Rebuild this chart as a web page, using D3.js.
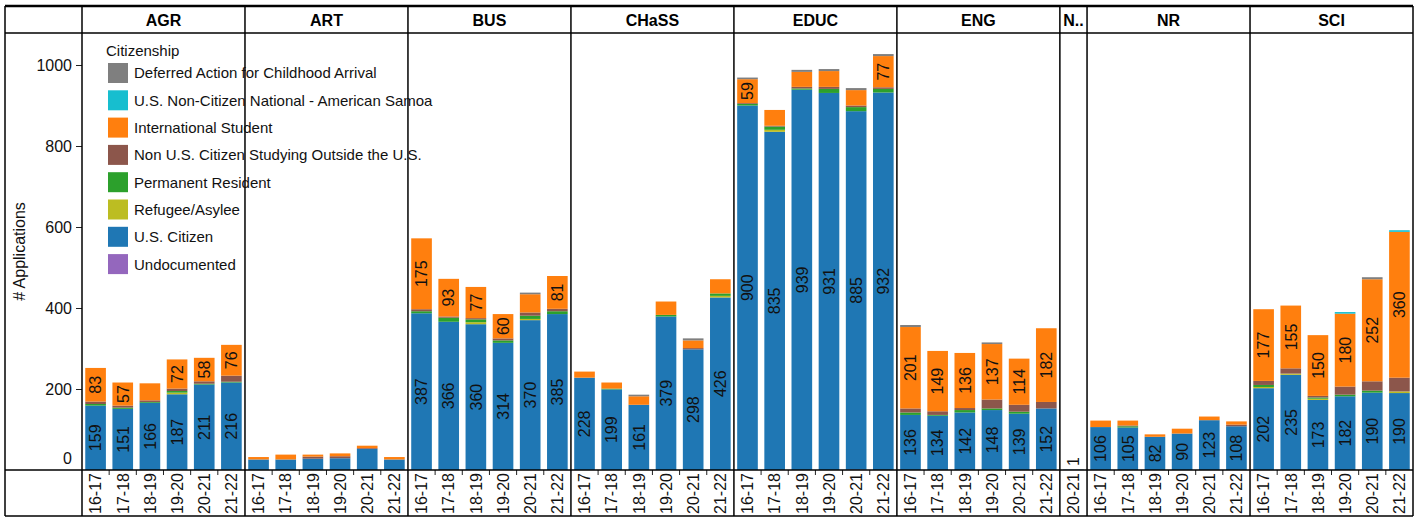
<!DOCTYPE html>
<html>
<head>
<meta charset="utf-8">
<script src="https://cdn.jsdelivr.net/npm/d3@7"></script>
<style>
  body { margin: 0; background: #fff; }
  text { font-family: "Liberation Sans", Arial, sans-serif; fill: #111; }
</style>
</head>
<body>
<svg id="chart" width="1424" height="518"></svg>
<script>
// colleges (panels) and academic years
const colleges = ["AGR", "ART", "BUS", "CHaSS", "EDUC", "ENG", "N..", "NR", "SCI"];
const years = ["16-17", "17-18", "18-19", "19-20", "20-21", "21-22"];
const shortYears = ["20-21"]; // the narrow "N.." panel only has one year

// legend order (top to bottom); bars stack in the reverse order
const citizenship = [
  "Deferred Action for Childhood Arrival",
  "U.S. Non-Citizen National - American Samoa",
  "International Student",
  "Non U.S. Citizen Studying Outside the U.S.",
  "Permanent Resident",
  "Refugee/Asylee",
  "U.S. Citizen",
  "Undocumented"
];
const colors = ["#7f7f7f", "#17becf", "#ff7f0e", "#8c564b", "#2ca02c", "#bcbd22", "#1f77b4", "#9467bd"];

// values per row: AGR x6, ART x6, BUS x6, CHaSS x6, EDUC x6, ENG x6, N.. x1, NR x6, SCI x6
const daca = [
  0, 0, 0, 0, 0, 0,   0, 0, 0, 0, 0, 0,   0, 0, 0, 0, 4, 0,   0, 0, 4, 0, 5, 0,
  4, 0, 5, 5, 5, 5,   5, 0, 0, 4, 0, 0,   0,   0, 0, 0, 0, 0, 0,   0, 0, 0, 0, 5, 0
];
const usNational = [
  0, 0, 0, 0, 0, 0,   0, 0, 0, 0, 0, 0,   0, 0, 0, 0, 0, 0,   0, 0, 0, 0, 0, 0,
  0, 0, 0, 0, 0, 0,   0, 0, 0, 0, 0, 0,   0,   0, 0, 0, 0, 0, 0,   0, 0, 0, 4, 0, 4
];
const international = [
  83, 57, 42, 72, 58, 76,   6, 12, 5, 7, 6, 6,   175, 93, 77, 60, 45, 81,   15, 15, 21, 33, 19, 35,
  59, 39, 37, 39, 38, 77,   201, 149, 136, 137, 114, 182,   0,   16, 12, 6, 12, 9, 8,   177, 155, 150, 180, 252, 360
];
const nonUS = [
  6, 5, 4, 6, 6, 15,   0, 0, 5, 5, 2, 0,   5, 3, 3, 5, 8, 6,   0, 0, 0, 0, 3, 0,
  2, 2, 4, 5, 4, 4,   10, 9, 5, 22, 17, 16,   0,   0, 2, 0, 0, 0, 4,   10, 13, 4, 20, 23, 34
];
const permanent = [
  4, 3, 2, 4, 2, 2,   0, 0, 0, 0, 0, 0,   5, 10, 7, 6, 8, 7,   0, 2, 0, 4, 0, 6,
  4, 8, 3, 10, 10, 9,   6, 2, 6, 4, 5, 0,   0,   0, 3, 0, 0, 0, 0,   5, 0, 3, 4, 5, 0
];
const refugee = [
  0, 0, 0, 4, 0, 0,   0, 0, 0, 0, 0, 0,   0, 0, 5, 0, 3, 0,   0, 0, 0, 0, 0, 4,
  0, 5, 0, 0, 0, 0,   0, 0, 0, 0, 0, 0,   0,   0, 0, 0, 0, 0, 0,   3, 3, 3, 0, 0, 4
];
const usCitizen = [
  159, 151, 166, 187, 211, 216,   26, 26, 28, 29, 52, 26,   387, 366, 360, 314, 370, 385,   228, 199, 161, 379, 298, 426,
  900, 835, 939, 931, 885, 932,   136, 134, 142, 148, 139, 152,   1,   106, 105, 82, 90, 123, 108,   202, 235, 173, 182, 190, 190
];
const undocumented = [
  0, 0, 0, 0, 0, 0,   0, 0, 0, 0, 0, 0,   0, 0, 0, 0, 0, 0,   0, 0, 0, 0, 0, 0,
  0, 0, 0, 0, 1, 0,   0, 0, 0, 0, 0, 0,   0,   0, 0, 0, 0, 0, 0,   0, 0, 0, 0, 1, 0
];
const yTicks = [0, 200, 400, 600, 800, 1000];

const seriesValues = [daca, usNational, international, nonUS, permanent, refugee, usCitizen, undocumented];
const labelled = ["U.S. Citizen", "International Student"];

// build table
const rows = [];
colleges.forEach(c => {
  (c === "N.." ? shortYears : years).forEach(y => rows.push({ college: c, year: y, key: c + "|" + y }));
});
rows.forEach((r, i) => {
  citizenship.forEach((s, j) => { r[s] = seriesValues[j][i]; });
  r.total = d3.sum(citizenship, s => r[s]);
});

// layout
const frameL = 5, frameR = 1413, frameT = 6, headB = 33, plotB = 470, frameB = 516;
const plotL = 82;

const svg = d3.select("#chart");

const x = d3.scaleBand()
  .domain(rows.map(r => r.key))
  .range([plotL, frameR])
  .paddingInner(0.24)
  .paddingOuter(0.12);
const step = x.step();

const y = d3.scaleLinear()
  .domain([0, (plotB - headB) / 0.405])
  .range([plotB, headB]);

const color = d3.scaleOrdinal().domain(citizenship).range(colors);

// stacked bars
const stack = d3.stack().keys(citizenship.slice().reverse());
const layers = stack(rows);

const barG = svg.append("g");
barG.selectAll("g")
  .data(layers).enter()
  .append("g")
    .attr("fill", d => color(d.key))
  .selectAll("rect")
  .data(d => d).enter()
  .append("rect")
    .attr("x", d => x(d.data.key))
    .attr("width", x.bandwidth())
    .attr("y", d => y(d[1]))
    .attr("height", d => Math.max(0, y(d[0]) - y(d[1])));

// value labels
const labelG = svg.append("g");
layers.filter(l => labelled.includes(l.key)).forEach(l => {
  l.forEach(d => {
    const v = d[1] - d[0];
    if (!(v >= 55 || (v > 0 && d.data.total < 5))) return;
    const txt = String(v);
    const half = txt.length * 4.5;
    const cy = Math.min((y(d[0]) + y(d[1])) / 2, plotB - half - 4);
    const cx = x(d.data.key) + x.bandwidth() / 2;
    labelG.append("text")
      .attr("transform", "translate(" + cx + "," + cy + ") rotate(-90)")
      .attr("text-anchor", "middle")
      .attr("dy", "0.36em")
      .style("font-size", "16px")
      .text(txt);
  });
});

// y axis
const yAxis = d3.axisLeft(y).tickValues(yTicks).tickFormat(d3.format("d")).tickSize(6).tickPadding(4);
const yG = svg.append("g")
  .attr("transform", "translate(" + plotL + ",0)")
  .call(yAxis);
yG.select(".domain").remove();
yG.selectAll("text").style("font-size", "16px").style("font-family", "Liberation Sans, Arial, sans-serif").attr("fill", "#111");
yG.selectAll("line").attr("stroke", "#222");
yG.selectAll(".tick").filter(d => d === 0).select("text").attr("dy", "-0.4em");
yG.selectAll(".tick").filter(d => d === 0).select("line").remove();

svg.append("text")
  .attr("transform", "translate(19," + ((headB + plotB) / 2) + ") rotate(-90)")
  .attr("text-anchor", "middle")
  .attr("dy", "0.35em")
  .style("font-size", "16px")
  .text("# Applications");

// x labels
svg.append("g").selectAll("text")
  .data(rows).enter()
  .append("text")
    .attr("transform", d => "translate(" + (x(d.key) + x.bandwidth() / 2) + "," + (plotB + 3) + ") rotate(-90)")
    .attr("text-anchor", "end")
    .attr("dy", "0.36em")
    .style("font-size", "16px")
    .text(d => d.year);

// x ticks between bars inside a panel
svg.append("g").selectAll("line")
  .data(rows.slice(1).filter((r, i) => r.college === rows[i].college)).enter()
  .append("line")
    .attr("x1", d => x(d.key) - step * 0.12)
    .attr("x2", d => x(d.key) - step * 0.12)
    .attr("y1", plotB)
    .attr("y2", plotB + 5)
    .attr("stroke", "#222");

// panel headers and borders
const panels = colleges.map(c => {
  const idx = rows.findIndex(r => r.college === c);
  const n = rows.filter(r => r.college === c).length;
  return { name: c, x0: plotL + idx * step, x1: plotL + (idx + n) * step };
});

svg.append("g").selectAll("text")
  .data(panels).enter()
  .append("text")
    .attr("x", d => (d.x0 + d.x1) / 2)
    .attr("y", (frameT + headB) / 2 + 1)
    .attr("dy", "0.36em")
    .attr("text-anchor", "middle")
    .style("font-size", "16px")
    .style("font-weight", "bold")
    .style("fill", "#000")
    .text(d => d.name);

const grid = svg.append("g").attr("stroke", "#000").attr("stroke-width", 1.5).attr("fill", "none");
[headB, plotB, frameB].forEach(yy => {
  grid.append("line").attr("x1", frameL).attr("x2", frameR).attr("y1", yy).attr("y2", yy);
});
grid.append("line").attr("x1", frameL).attr("x2", frameR).attr("y1", frameT).attr("y2", frameT).attr("stroke-width", 2.5);
[frameL, plotL].concat(panels.map(p => p.x1)).forEach(xx => {
  grid.append("line").attr("x1", xx).attr("x2", xx).attr("y1", frameT).attr("y2", frameB);
});

// legend
const legend = svg.append("g").attr("transform", "translate(106,0)");
legend.append("text")
  .attr("x", 0)
  .attr("y", 56)
  .style("font-size", "15px")
  .text("Citizenship");
const item = legend.selectAll("g.item")
  .data(citizenship).enter()
  .append("g")
    .attr("class", "item")
    .attr("transform", (d, i) => "translate(0," + (73 + i * 27.3) + ")");
item.append("rect")
  .attr("x", 2)
  .attr("y", -10)
  .attr("width", 20)
  .attr("height", 20)
  .attr("fill", d => color(d));
item.append("text")
  .attr("x", 28)
  .attr("dy", "0.36em")
  .style("font-size", "15px")
  .text(d => d);
</script>
</body>
</html>
